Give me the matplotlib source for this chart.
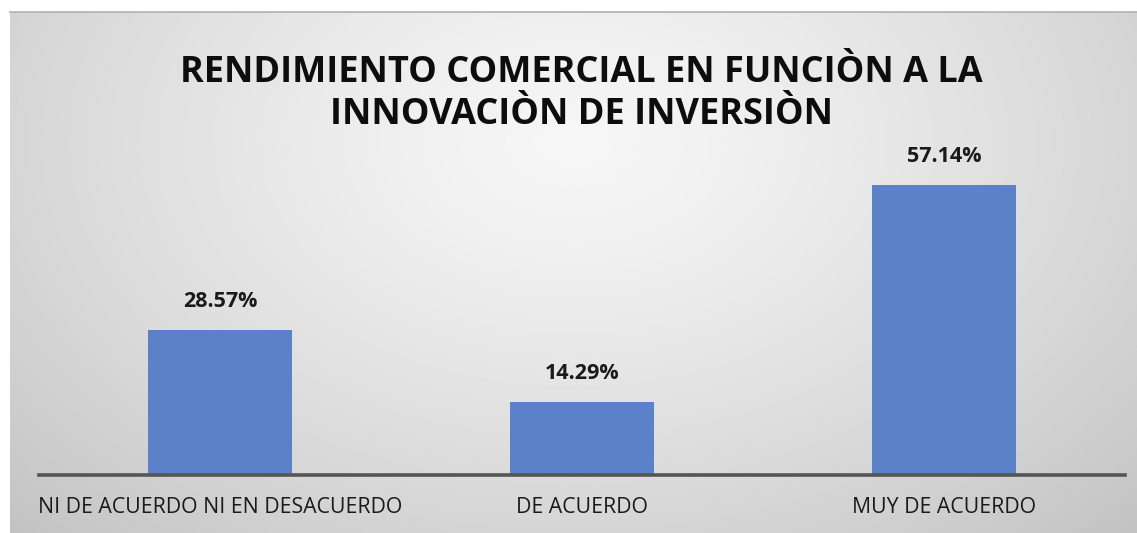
import matplotlib.pyplot as plt
import numpy as np

# data
categorias = ['NI DE ACUERDO NI EN DESACUERDO', 'DE ACUERDO', 'MUY DE ACUERDO']
porcentajes = [28.57, 14.29, 57.14]
etiquetas = ['28.57%', '14.29%', '57.14%']
titulo = 'RENDIMIENTO COMERCIAL EN FUNCIÒN A LA\nINNOVACIÒN DE INVERSIÒN'

W, H = 1137, 533
fig = plt.figure(figsize=(W / 100, H / 100), dpi=100)
fig.patch.set_facecolor('white')

# gradient background panel (radial, light in the upper middle)
bg = fig.add_axes([10 / W, 0, 1 - 10 / W, 1 - 12 / H])
yy, xx = np.mgrid[0:1:300j, 0:1:600j]
r = np.sqrt(((xx - 0.5) / 0.75) ** 2 + ((yy - 0.25) / 1.1) ** 2)
r = np.clip(r / 0.95, 0, 1)
shade = 0.965 - (0.965 - 0.765) * r ** 1.3
bg.imshow(shade, cmap='gray', vmin=0, vmax=1, aspect='auto',
          extent=[0, 1, 1, 0], interpolation='bilinear')
bg.set_axis_off()
fig.add_artist(plt.Line2D([10 / W, 1], [1 - 12 / H, 1 - 12 / H],
                          color='#b0b0b0', lw=1.2))

# bar axes
ax = fig.add_axes([39 / W, (H - 475) / H, (1125 - 39) / W, 310 / H])
ax.patch.set_alpha(0)
x = np.arange(len(categorias))
ax.bar(x, porcentajes, width=0.4, color='#5b82c8', zorder=2)
ax.set_xlim(-0.5, 2.5)
ax.set_ylim(0, 61.1)
for s in ['top', 'right', 'left']:
    ax.spines[s].set_visible(False)
ax.spines['bottom'].set_color('#555555')
ax.spines['bottom'].set_linewidth(2.6)
ax.set_yticks([])
ax.set_xticks(x)
ax.set_xticklabels(categorias, fontsize=15.3, family='Open Sans', color='#1a1a1a')
ax.tick_params(axis='x', length=0, pad=16)
for xi, v, t in zip(x, porcentajes, etiquetas):
    ax.annotate(t, (xi, v), xytext=(0, 13), textcoords='offset points',
                ha='center', va='bottom', fontsize=15.5, fontweight='bold',
                family='Open Sans', color='#1a1a1a')

fig.text(581 / W, 1 - 94 / H, titulo, ha='center', va='center',
         fontsize=26, fontweight='bold', family='Open Sans',
         color='#0d0d0d', linespacing=1.2)

fig.savefig('out.png', dpi=100)
